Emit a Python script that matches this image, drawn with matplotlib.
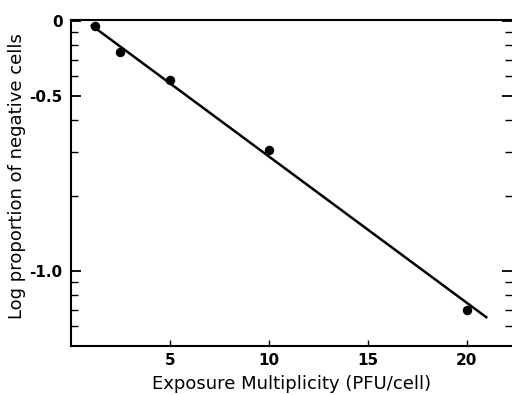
import matplotlib
matplotlib.use("Agg")
import matplotlib.pyplot as plt
import numpy as np

# Data (log10 of proportion of negative cells)
multiplicity = [1.2, 2.5, 5.0, 10.0, 20.0]
log_prop = [-0.02, -0.125, -0.236, -0.516, -1.156]

# fitted line endpoints
line_x = [1.0, 21.05]
line_log = [-0.015, -1.188]

ytick_props = [1.0, 0.5, 0.1]
ytick_labels = ["0", "-0.5", "-1.0"]
yminor_props = [0.9, 0.8, 0.7, 0.6, 0.4, 0.3, 0.2, 0.09, 0.08, 0.07, 0.06]
xticks = [5, 10, 15, 20]
xtick_labels = ["5", "10", "15", "20"]

plt.rcParams['font.family'] = ['DejaVu Sans']

fig = plt.figure(figsize=(5.12, 3.95), dpi=100)
ax = fig.add_axes([71/512, 1 - 346/395, 441/512, 326/395])

ax.set_yscale('log')
ax.plot(line_x, 10 ** np.array(line_log), color='black', lw=1.8, solid_capstyle='butt')
ax.plot(multiplicity, 10 ** np.array(log_prop), 'o', color='black', ms=5.8)

ax.set_xlim(0, 22.3)
ax.set_ylim(0.0501, 1.0093)

ax.set_yticks(ytick_props)
ax.set_yticklabels(ytick_labels)
ax.set_yticks(yminor_props, minor=True)
ax.yaxis.set_minor_formatter(matplotlib.ticker.NullFormatter())
ax.set_xticks(xticks)
ax.set_xticklabels(xtick_labels)
ax.xaxis.set_minor_locator(matplotlib.ticker.NullLocator())

for s in ['left', 'bottom', 'top']:
    ax.spines[s].set_linewidth(1.5)
ax.spines['right'].set_visible(False)

ax.tick_params(axis='y', which='major', direction='in', length=7.5, width=1.3,
               left=True, right=True, labelsize=11, pad=6)
ax.tick_params(axis='y', which='minor', direction='in', length=5, width=1.0,
               left=True, right=True)
ax.tick_params(axis='x', which='major', direction='in', length=4.5, width=1.0,
               labelsize=11, pad=5)

for lbl in ax.get_xticklabels() + ax.get_yticklabels():
    lbl.set_fontweight('bold')

fig.text(292/512, 1 - 384/395, "Exposure Multiplicity (PFU/cell)", fontsize=13,
         ha='center', va='center')
fig.text(17/512, 1 - 176/395, "Log proportion of negative cells", fontsize=13,
         rotation=90, ha='center', va='center')

fig.savefig("out.png", dpi=100)
